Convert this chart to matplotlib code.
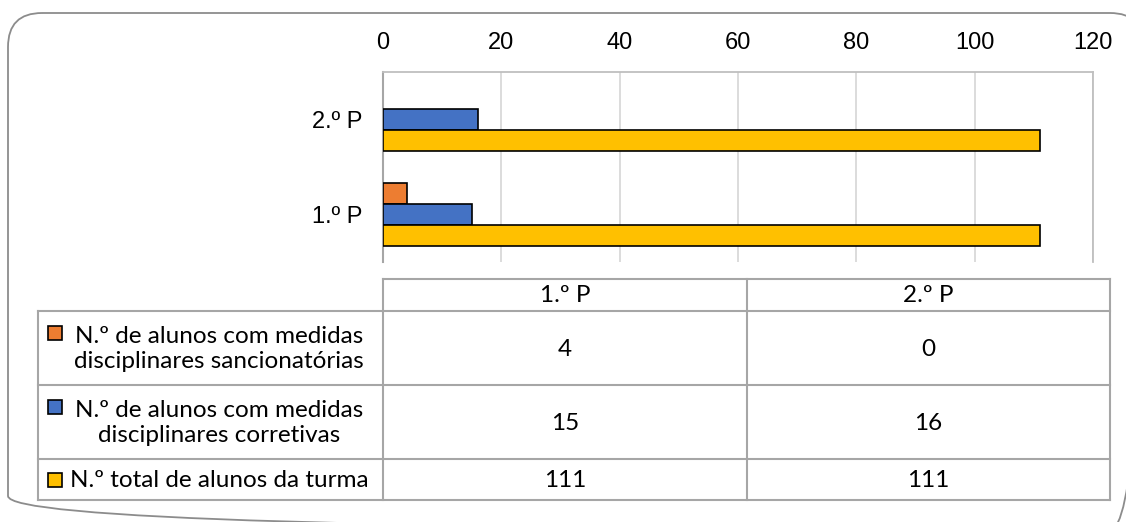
import numpy as np
import matplotlib.pyplot as plt
from matplotlib.patches import FancyBboxPatch, Rectangle

# Dados
periodos = ['1.º P', '2.º P']
series = ['N.º de alunos com medidas\ndisciplinares sancionatórias',
          'N.º de alunos com medidas\ndisciplinares corretivas',
          'N.º total de alunos da turma']
sancionatorias = [4, 0]
corretivas = [15, 16]
total = [111, 111]
cores = ['#ED7D31', '#4472C4', '#FFC000']

W, H = 1126, 522
fig = plt.figure(figsize=(W / 100, H / 100), dpi=100)

fonte_eixo = ['Liberation Sans', 'DejaVu Sans']
fonte_tab = ['Lato', 'DejaVu Sans']
linha = '#a6a6a6'

# camada em coordenadas de pixel: moldura e tabela
ov = fig.add_axes([0, 0, 1, 1])
ov.set_xlim(0, W)
ov.set_ylim(H, 0)
ov.axis('off')
ov.add_patch(FancyBboxPatch((8, 13), 1144 - 8, 530 - 13,
                            boxstyle='round,pad=0,rounding_size=34',
                            fc='none', ec='#8c8c8c', lw=1.3))

# grafico de barras
x0, x1, y_top, y_bot = 383, 1093, 72, 262
ax = fig.add_axes([x0 / W, 1 - y_bot / H, (x1 - x0) / W, (y_bot - y_top) / H])
ax.patch.set_alpha(0)
y = np.arange(len(periodos))
h = 0.22
for vals, off, c in zip([sancionatorias, corretivas, total], [h, 0, -h], cores):
    lws = [1.2 if v > 0 else 0 for v in vals]
    ax.barh(y + off, vals, height=h, color=c, edgecolor='black', linewidth=lws, zorder=3)
ax.set_xlim(0, 120)
ax.set_ylim(-0.5, 1.5)
ax.set_xticks(range(0, 121, 20))
ax.xaxis.tick_top()
ax.set_yticks(y, periodos)
ax.tick_params(length=0, labelsize=17)
ax.tick_params(axis='x', pad=13)
ax.tick_params(axis='y', pad=15)
for lab in ax.get_xticklabels() + ax.get_yticklabels():
    lab.set_family(fonte_eixo)
ax.grid(axis='x', color='#d9d9d9', lw=1.3, zorder=0)
ax.spines['bottom'].set_visible(False)
for s in ['top', 'right']:
    ax.spines[s].set_color('#bfbfbf')
    ax.spines[s].set_linewidth(1.3)
ax.spines['left'].set_color(linha)
ax.spines['left'].set_linewidth(1.5)

# tabela de dados
cx = [38, 383, 747, 1110]
ry = [279, 311, 385, 459, 500]
kw = dict(color=linha, lw=1.5)
ov.plot([cx[1], cx[3]], [ry[0], ry[0]], **kw)
for yy in ry[1:]:
    ov.plot([cx[0], cx[3]], [yy, yy], **kw)
ov.plot([cx[0], cx[0]], [ry[1], ry[-1]], **kw)
for xx in cx[1:]:
    ov.plot([xx, xx], [ry[0], ry[-1]], **kw)

fs = 17.5
for j, p in enumerate(periodos):
    ov.text((cx[j + 1] + cx[j + 2]) / 2, (ry[0] + ry[1]) / 2 + 1, p,
            ha='center', va='center', fontsize=fs, family=fonte_tab)

valores = [sancionatorias, corretivas, total]
for i, (nome, vals, c) in enumerate(zip(series, valores, cores)):
    yc = (ry[i + 1] + ry[i + 2]) / 2
    ov.text(219, yc + 1, nome, ha='center', va='center', multialignment='center',
            fontsize=fs, family=fonte_tab, linespacing=1.25)
    n = nome.count('\n') + 1
    y_sw = yc - (n - 1) * 15.5
    ov.add_patch(Rectangle((48, y_sw - 7), 14, 14, fc=c, ec='black', lw=1.2))
    for j, v in enumerate(vals):
        ov.text((cx[j + 1] + cx[j + 2]) / 2, yc + 1, str(v),
                ha='center', va='center', fontsize=fs, family=fonte_tab)

fig.savefig('out.png', dpi=100)
